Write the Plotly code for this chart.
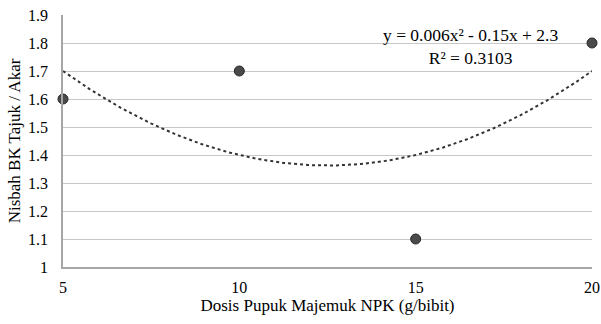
import numpy as np
import plotly.graph_objects as go

dose = [5, 10, 15, 20]
ratio = [1.6, 1.7, 1.1, 1.8]
y_ticks = [1, 1.1, 1.2, 1.3, 1.4, 1.5, 1.6, 1.7, 1.8, 1.9]
y_tick_labels = ["1", "1.1", "1.2", "1.3", "1.4", "1.5", "1.6", "1.7", "1.8", "1.9"]
x_ticks = [5, 10, 15, 20]

# polynomial (order 2) trendline fitted to the data, as in the original
coef = np.polyfit(dose, ratio, 2)
xs = np.linspace(min(dose), max(dose), 200)
ys = np.polyval(coef, xs)
pred = np.polyval(coef, dose)
r2 = 1 - np.sum((np.array(ratio) - pred) ** 2) / np.sum((np.array(ratio) - np.mean(ratio)) ** 2)

font = "Liberation Serif"

fig = go.Figure()
fig.add_trace(go.Scatter(x=xs, y=ys, mode="lines",
                         line=dict(color="#333333", width=2, dash="dot"),
                         hoverinfo="skip", showlegend=False, cliponaxis=False))
fig.add_trace(go.Scatter(x=dose, y=ratio, mode="markers",
                         marker=dict(size=10, color="#4a4a4a", line=dict(color="#262626", width=1)),
                         showlegend=False, cliponaxis=False))

fig.add_annotation(x=0.77, y=0.97, xref="paper", yref="paper",
                   text=f"y = {coef[0]:.3f}x² - {abs(coef[1]):.2f}x + {coef[2]:.1f}<br>R² = {r2:.4f}",
                   showarrow=False, align="center", xanchor="center", yanchor="top",
                   font=dict(family=font, size=17.5, color="#000000"))

fig.update_layout(
    width=601, height=324,
    margin=dict(l=63, r=9, t=15, b=57, autoexpand=False),
    paper_bgcolor="white", plot_bgcolor="white",
    font=dict(family=font, color="#000000", size=16),
    xaxis=dict(range=[5, 20], tickvals=x_ticks, showgrid=False, zeroline=False, automargin=False,
               showline=True, linecolor="#a6a6a6", linewidth=1.5, ticklabeloverflow="allow",
               tickfont=dict(size=16, family=font, color="#000000"), ticks="", ticklabelstandoff=5,
               title=dict(text="Dosis Pupuk Majemuk NPK (g/bibit)", font=dict(size=17, family=font), standoff=4)),
    yaxis=dict(range=[1, 1.9], tickvals=y_ticks, ticktext=y_tick_labels, showgrid=True, automargin=False,
               gridcolor="#c8c8c8", gridwidth=1.2, zeroline=False, ticklabeloverflow="allow",
               showline=True, linecolor="#a6a6a6", linewidth=1.5,
               tickfont=dict(size=16, family=font, color="#000000"), ticks="", ticklabelstandoff=10,
               title=dict(text="Nisbah BK Tajuk / Akar", font=dict(size=17, family=font), standoff=3)),
)

# remove the default page margin so the figure sits at the window's top-left corner
fig.write_html("out.html", config={"displayModeBar": False},
               post_script="document.body.style.margin='0';")
